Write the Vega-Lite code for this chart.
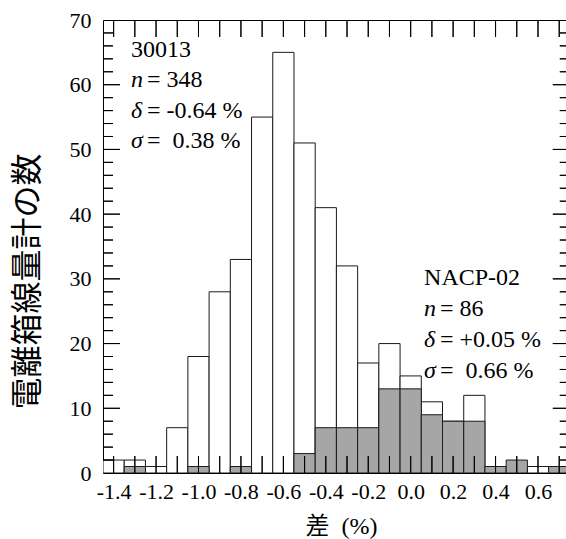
{
  "$schema": "https://vega.github.io/schema/vega-lite/v6.json",
  "width": 463,
  "height": 453,
  "autosize": {"type": "none"},
  "padding": {"left": 103, "top": 20, "right": 0, "bottom": 66},
  "background": "white",
  "config": {
    "view": {"stroke": "black", "strokeWidth": 1},
    "axis": {"domain": false, "ticks": false, "grid": false, "labelColor": "black", "titleColor": "black", "zindex": 1}
  },
  "datasets": {
    "bars": [
      {"series": "30013", "start": -1.45, "end": -1.35, "count": 2},
      {"series": "30013", "start": -1.35, "end": -1.25, "count": 2},
      {"series": "30013", "start": -1.25, "end": -1.15, "count": 1},
      {"series": "30013", "start": -1.15, "end": -1.05, "count": 7},
      {"series": "30013", "start": -1.05, "end": -0.95, "count": 18},
      {"series": "30013", "start": -0.95, "end": -0.85, "count": 28},
      {"series": "30013", "start": -0.85, "end": -0.75, "count": 33},
      {"series": "30013", "start": -0.75, "end": -0.65, "count": 55},
      {"series": "30013", "start": -0.65, "end": -0.55, "count": 65},
      {"series": "30013", "start": -0.55, "end": -0.45, "count": 51},
      {"series": "30013", "start": -0.45, "end": -0.35, "count": 41},
      {"series": "30013", "start": -0.35, "end": -0.25, "count": 32},
      {"series": "30013", "start": -0.25, "end": -0.15, "count": 17},
      {"series": "30013", "start": -0.15, "end": -0.05, "count": 20},
      {"series": "30013", "start": -0.05, "end": 0.05, "count": 15},
      {"series": "30013", "start": 0.05, "end": 0.15, "count": 11},
      {"series": "30013", "start": 0.15, "end": 0.25, "count": 8},
      {"series": "30013", "start": 0.25, "end": 0.35, "count": 12},
      {"series": "30013", "start": 0.35, "end": 0.45, "count": 1},
      {"series": "30013", "start": 0.55, "end": 0.65, "count": 1},
      {"series": "NACP-02", "start": -1.35, "end": -1.25, "count": 1},
      {"series": "NACP-02", "start": -1.05, "end": -0.95, "count": 1},
      {"series": "NACP-02", "start": -0.85, "end": -0.75, "count": 1},
      {"series": "NACP-02", "start": -0.55, "end": -0.45, "count": 3},
      {"series": "NACP-02", "start": -0.45, "end": -0.35, "count": 7},
      {"series": "NACP-02", "start": -0.35, "end": -0.25, "count": 7},
      {"series": "NACP-02", "start": -0.25, "end": -0.15, "count": 7},
      {"series": "NACP-02", "start": -0.15, "end": -0.05, "count": 13},
      {"series": "NACP-02", "start": -0.05, "end": 0.05, "count": 13},
      {"series": "NACP-02", "start": 0.05, "end": 0.15, "count": 9},
      {"series": "NACP-02", "start": 0.15, "end": 0.25, "count": 8},
      {"series": "NACP-02", "start": 0.25, "end": 0.35, "count": 8},
      {"series": "NACP-02", "start": 0.35, "end": 0.45, "count": 1},
      {"series": "NACP-02", "start": 0.45, "end": 0.55, "count": 2},
      {"series": "NACP-02", "start": 0.65, "end": 0.75, "count": 1}
    ],
    "xticks": [
      {"v": -1.4}, {"v": -1.3}, {"v": -1.2}, {"v": -1.1}, {"v": -1.0}, {"v": -0.9}, {"v": -0.8}, {"v": -0.7}, {"v": -0.6}, {"v": -0.5}, {"v": -0.4},
      {"v": -0.3}, {"v": -0.2}, {"v": -0.1}, {"v": 0.0}, {"v": 0.1}, {"v": 0.2}, {"v": 0.3}, {"v": 0.4}, {"v": 0.5}, {"v": 0.6}, {"v": 0.7}
    ],
    "ymajor": [{"v": 10}, {"v": 20}, {"v": 30}, {"v": 40}, {"v": 50}, {"v": 60}],
    "yminor": [
      {"v": 2}, {"v": 4}, {"v": 6}, {"v": 8}, {"v": 12}, {"v": 14}, {"v": 16}, {"v": 18}, {"v": 22}, {"v": 24}, {"v": 26}, {"v": 28},
      {"v": 32}, {"v": 34}, {"v": 36}, {"v": 38}, {"v": 42}, {"v": 44}, {"v": 46}, {"v": 48}, {"v": 52}, {"v": 54}, {"v": 56}, {"v": 58},
      {"v": 62}, {"v": 64}, {"v": 66}, {"v": 68}
    ],
    "notes": [
      {"x": -1.318, "y": 64.3, "sym": "", "txt": "30013"},
      {"x": -1.318, "y": 59.6, "sym": "n", "txt": "= 348"},
      {"x": -1.318, "y": 54.9, "sym": "δ", "txt": "= -0.64 %"},
      {"x": -1.318, "y": 50.2, "sym": "σ", "txt": "=\u00a0 0.38 %"},
      {"x": 0.063, "y": 29.05, "sym": "", "txt": "NACP-02"},
      {"x": 0.063, "y": 24.3, "sym": "n", "txt": "= 86"},
      {"x": 0.063, "y": 19.5, "sym": "δ", "txt": "= +0.05 %"},
      {"x": 0.063, "y": 14.7, "sym": "σ", "txt": "=\u00a0 0.66 %"}
    ]
  },
  "layer": [
    {
      "data": {"name": "bars"},
      "transform": [{"filter": "datum.series === '30013'"}],
      "mark": {"type": "bar", "fill": "white", "stroke": "#1a1a1a", "strokeWidth": 1, "clip": true},
      "encoding": {
        "x": {
          "field": "start", "type": "quantitative",
          "scale": {"domain": [-1.45, 0.732], "nice": false, "zero": false},
          "axis": {
            "orient": "bottom",
            "values": [-1.4, -1.2, -1.0, -0.8, -0.6, -0.4, -0.2, 0.0, 0.2, 0.4, 0.6],
            "labelExpr": "replace(format(datum.value, '.1f'), '\u2212', '-')",
            "labelFont": "Liberation Serif",
            "labelFontSize": 22,
            "labelPadding": 8,
            "labelOverlap": false,
            "labelFlush": false,
            "title": "差\u00a0 (%)",
            "titleFont": "Liberation Serif, Noto Sans CJK JP",
            "titleFontSize": 24,
            "titleFontWeight": "normal",
            "titleX": 238,
            "titleY": 53,
            "titleBaseline": "middle",
            "titleAlign": "center"
          }
        },
        "x2": {"field": "end"},
        "y": {
          "field": "count", "type": "quantitative",
          "scale": {"domain": [0, 70], "nice": false},
          "axis": {
            "orient": "left",
            "values": [0, 10, 20, 30, 40, 50, 60, 70],
            "labelFont": "Liberation Serif",
            "labelFontSize": 22,
            "labelPadding": 12,
            "labelOverlap": false,
            "labelFlush": false,
            "title": "電離箱線量計の数",
            "titleFont": "Noto Sans CJK JP",
            "titleFontSize": 32,
            "titleFontWeight": "normal",
            "titleAngle": -90,
            "titleX": -76,
            "titleY": 261,
            "titleBaseline": "middle",
            "titleAlign": "center"
          }
        },
        "y2": {"datum": 0}
      }
    },
    {
      "data": {"name": "bars"},
      "transform": [{"filter": "datum.series === 'NACP-02'"}],
      "mark": {"type": "bar", "fill": "#a6a6a6", "stroke": "#1a1a1a", "strokeWidth": 1, "clip": true},
      "encoding": {
        "x": {"field": "start", "type": "quantitative", "axis": null},
        "x2": {"field": "end"},
        "y": {"field": "count", "type": "quantitative", "axis": null},
        "y2": {"datum": 0}
      }
    },
    {
      "data": {"name": "xticks"},
      "mark": {"type": "bar", "fill": "black", "stroke": "black", "strokeWidth": 1},
      "encoding": {
        "x": {"field": "v", "type": "quantitative", "axis": null},
        "x2": {"field": "v"},
        "y": {"datum": 0, "type": "quantitative", "axis": null},
        "y2": {"datum": 2.627}
      }
    },
    {
      "data": {"name": "xticks"},
      "mark": {"type": "bar", "fill": "black", "stroke": "black", "strokeWidth": 1},
      "encoding": {
        "x": {"field": "v", "type": "quantitative", "axis": null},
        "x2": {"field": "v"},
        "y": {"datum": 70, "type": "quantitative", "axis": null},
        "y2": {"datum": 67.373}
      }
    },
    {
      "data": {"name": "ymajor"},
      "mark": {"type": "bar", "fill": "black", "stroke": "black", "strokeWidth": 1},
      "encoding": {
        "y": {"field": "v", "type": "quantitative", "axis": null},
        "y2": {"field": "v"},
        "x": {"datum": -1.45, "type": "quantitative", "axis": null},
        "x2": {"datum": -1.3699}
      }
    },
    {
      "data": {"name": "ymajor"},
      "mark": {"type": "bar", "fill": "black", "stroke": "black", "strokeWidth": 1, "clip": true},
      "encoding": {
        "y": {"field": "v", "type": "quantitative", "axis": null},
        "y2": {"field": "v"},
        "x": {"datum": 0.6699, "type": "quantitative", "axis": null},
        "x2": {"datum": 0.75}
      }
    },
    {
      "data": {"name": "yminor"},
      "mark": {"type": "bar", "fill": "black", "stroke": "black", "strokeWidth": 1},
      "encoding": {
        "y": {"field": "v", "type": "quantitative", "axis": null},
        "y2": {"field": "v"},
        "x": {"datum": -1.45, "type": "quantitative", "axis": null},
        "x2": {"datum": -1.4029}
      }
    },
    {
      "data": {"name": "yminor"},
      "mark": {"type": "bar", "fill": "black", "stroke": "black", "strokeWidth": 1, "clip": true},
      "encoding": {
        "y": {"field": "v", "type": "quantitative", "axis": null},
        "y2": {"field": "v"},
        "x": {"datum": 0.7029, "type": "quantitative", "axis": null},
        "x2": {"datum": 0.75}
      }
    },
    {
      "data": {"name": "notes"},
      "transform": [{"filter": "datum.sym === ''"}],
      "mark": {"type": "text", "font": "Liberation Serif", "fontSize": 24, "align": "left", "baseline": "alphabetic", "color": "black"},
      "encoding": {
        "x": {"field": "x", "type": "quantitative", "axis": null},
        "y": {"field": "y", "type": "quantitative", "axis": null},
        "text": {"field": "txt"}
      }
    },
    {
      "data": {"name": "notes"},
      "transform": [{"filter": "datum.sym !== ''"}],
      "mark": {"type": "text", "font": "Liberation Serif", "fontSize": 24, "fontStyle": "italic", "align": "left", "baseline": "alphabetic", "color": "black"},
      "encoding": {
        "x": {"field": "x", "type": "quantitative", "axis": null},
        "y": {"field": "y", "type": "quantitative", "axis": null},
        "text": {"field": "sym"}
      }
    },
    {
      "data": {"name": "notes"},
      "transform": [{"filter": "datum.sym !== ''"}],
      "mark": {"type": "text", "font": "Liberation Serif", "fontSize": 24, "align": "left", "baseline": "alphabetic", "color": "black", "dx": 16},
      "encoding": {
        "x": {"field": "x", "type": "quantitative", "axis": null},
        "y": {"field": "y", "type": "quantitative", "axis": null},
        "text": {"field": "txt"}
      }
    }
  ],
  "resolve": {"axis": {"x": "independent", "y": "independent"}}
}
